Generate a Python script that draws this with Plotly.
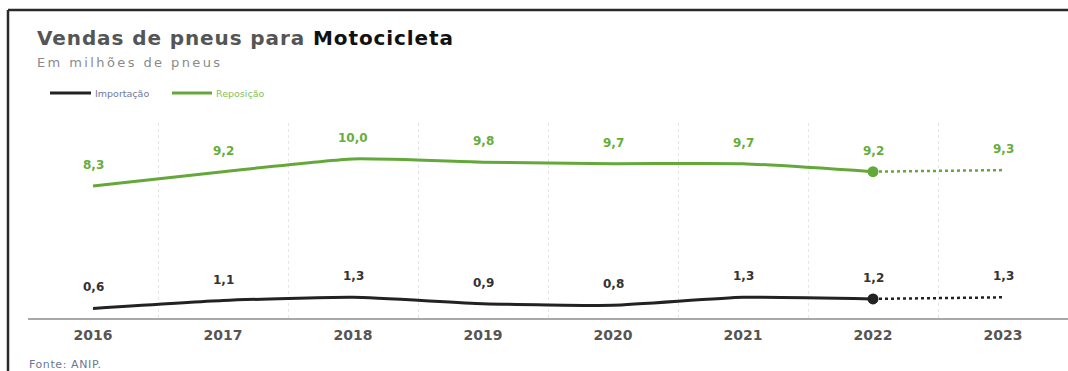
import plotly.graph_objects as go

# ---- data ----
years = [2016, 2017, 2018, 2019, 2020, 2021, 2022, 2023]
reposicao = [8.3, 9.2, 10.0, 9.8, 9.7, 9.7, 9.2, 9.3]
importacao = [0.6, 1.1, 1.3, 0.9, 0.8, 1.3, 1.2, 1.3]
year_labels = ["2016", "2017", "2018", "2019", "2020", "2021", "2022", "2023"]
series_names = ["Importação", "Reposição"]
last_actual = 6  # index of 2022 (last solid point)

GREEN = "#64a83a"
GREEN_TXT = "#66ad3c"
BLACK = "#222222"
W, H = 1068, 371
L, R, T, B = 28, 0, 123, 53
PW, PH = W - L - R, H - T - B


def px(x):
    return (x - L) / PW


def py(y):
    return (H - B - y) / PH


def fmt(v):
    return f"{v:.1f}".replace(".", ",")


fig = go.Figure()

for vals, color in [(reposicao, GREEN), (importacao, BLACK)]:
    fig.add_trace(go.Scatter(
        x=years[:last_actual + 1], y=vals[:last_actual + 1], mode="lines",
        line=dict(color=color, width=3, shape="spline", smoothing=0.5),
        showlegend=False, hoverinfo="skip"))
    fig.add_trace(go.Scatter(
        x=years[last_actual:], y=vals[last_actual:], mode="lines",
        line=dict(color=color, width=2.5, dash="dot"),
        showlegend=False, hoverinfo="skip"))
    fig.add_trace(go.Scatter(
        x=[years[last_actual]], y=[vals[last_actual]], mode="markers",
        marker=dict(color=color, size=11),
        showlegend=False, hoverinfo="skip"))

annotations = []
for vals, color in [(reposicao, GREEN_TXT), (importacao, "#333333")]:
    for x, v in zip(years, vals):
        annotations.append(dict(
            x=x, y=v, xref="x", yref="y", text=fmt(v), showarrow=False,
            yshift=21, font=dict(family="DejaVu Sans", size=12, color=color, weight="bold")))

# title / subtitle / source
annotations.append(dict(
    x=px(35), y=py(38), xref="paper", yref="paper", xanchor="left", yanchor="middle",
    showarrow=False,
    text="<span style='letter-spacing:0.9px'>Vendas de pneus para </span>"
         "<span style='letter-spacing:0.9px;fill:#111111'>Motocicleta</span>",
    font=dict(family="DejaVu Sans", size=20, color="#555555", weight="bold")))
annotations.append(dict(
    x=px(35), y=py(62), xref="paper", yref="paper", xanchor="left", yanchor="middle",
    showarrow=False,
    text="<span style='letter-spacing:2.4px'>Em milhões de pneus</span>",
    font=dict(family="DejaVu Sans", size=13, color="#8a8a8a")))
annotations.append(dict(
    x=px(27), y=py(364), xref="paper", yref="paper", xanchor="left", yanchor="middle",
    showarrow=False, text="<span style='letter-spacing:0.6px'>Fonte: ANIP.</span>",
    font=dict(family="DejaVu Sans", size=11, color="#6b7895")))

# legend (manual)
shapes = []
leg = [(50, 91, 93, BLACK, "#707a96"), (172, 212, 214, GREEN, "#86c05a")]
for (x0, x1, tx, col, tcol), name in zip(leg, series_names):
    shapes.append(dict(type="line", xref="paper", yref="paper",
                       x0=px(x0), x1=px(x1), y0=py(93), y1=py(93),
                       line=dict(color=col, width=3)))
    annotations.append(dict(
        x=px(tx), y=py(93), xref="paper", yref="paper", xanchor="left", yanchor="middle",
        showarrow=False, text=name,
        font=dict(family="DejaVu Sans", size=9.5, color=tcol)))

# outer frame: top and left edges only
shapes.append(dict(type="line", xref="paper", yref="paper",
                   x0=px(8), x1=px(W), y0=py(10), y1=py(10),
                   line=dict(color="#2a2a2a", width=2.5), layer="below"))
shapes.append(dict(type="line", xref="paper", yref="paper",
                   x0=px(8), x1=px(8), y0=py(10), y1=py(H + 5),
                   line=dict(color="#2a2a2a", width=2.5), layer="below"))

fig.update_layout(
    width=W, height=H,
    margin=dict(l=L, r=R, t=T, b=B, pad=0),
    paper_bgcolor="white", plot_bgcolor="white",
    showlegend=False,
    annotations=annotations, shapes=shapes,
    xaxis=dict(
        range=[years[0] - 0.5, years[-1] + 0.5],
        tickmode="array", tickvals=years, ticktext=year_labels,
        showgrid=False, zeroline=False,
        showline=True, linecolor="#a8a8a8", linewidth=2,
        ticks="outside", ticklen=3, tickcolor="rgba(0,0,0,0)",
        tickfont=dict(family="DejaVu Sans", size=14, color="#555555", weight="bold"),
        minor=dict(tickvals=[y - 0.5 for y in years], showgrid=True,
                   gridcolor="#e6e6e6", griddash="dot", gridwidth=1, ticks=""),
        fixedrange=True),
    yaxis=dict(range=[0, 12.26], visible=False, showgrid=False, zeroline=False,
               fixedrange=True),
)

fig.write_html("out.html")
